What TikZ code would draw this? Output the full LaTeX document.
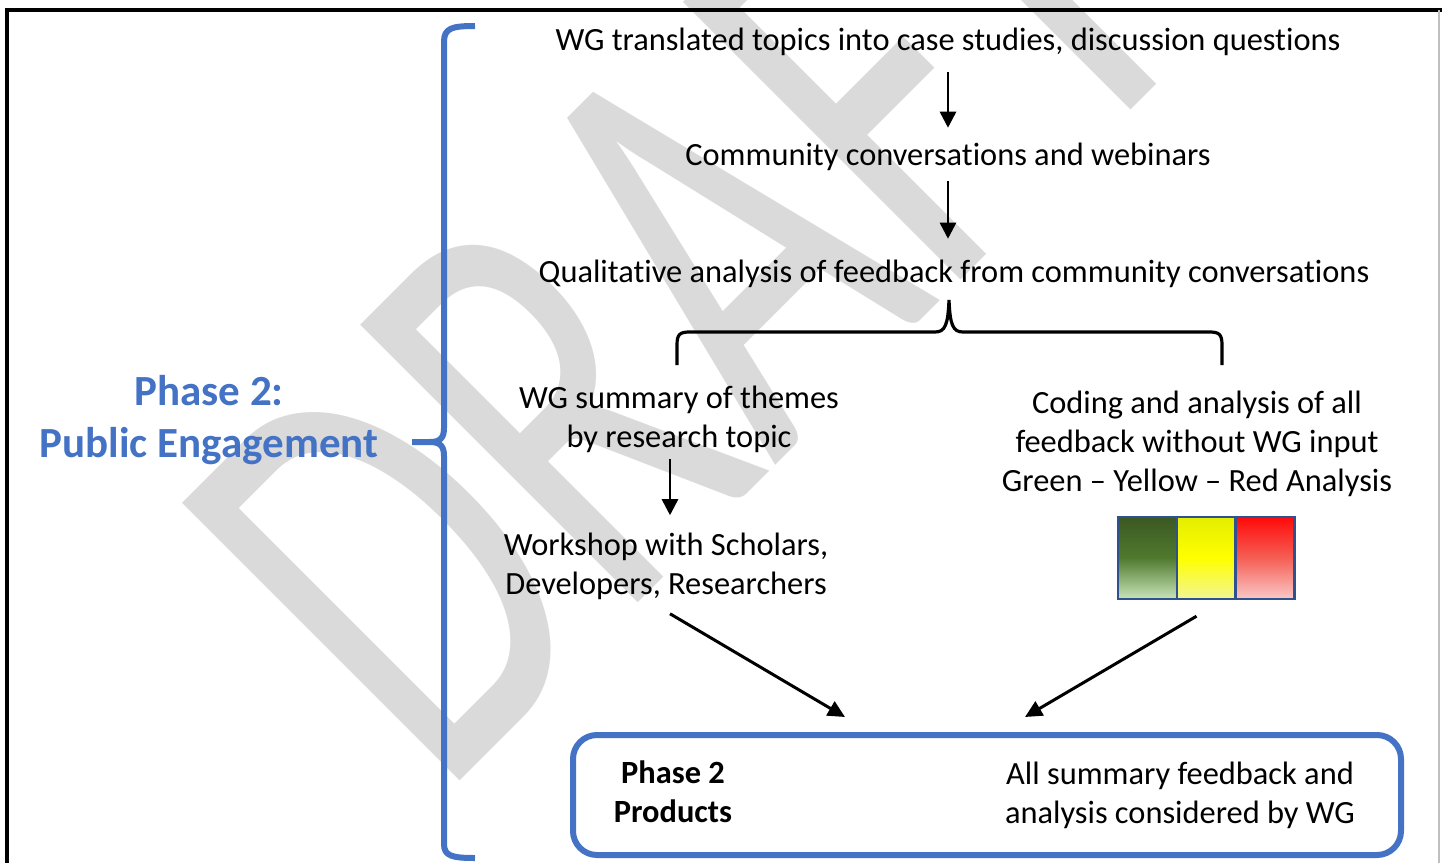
\documentclass[tikz,border=0pt]{standalone}
\usepackage{fontspec}
\setmainfont{Carlito}[Ligatures={TeX,NoCommon}]
\usetikzlibrary{arrows.meta}

\definecolor{phaseblue}{RGB}{68,114,196}
\definecolor{ragblue}{RGB}{47,82,143}
\definecolor{wmgray}{RGB}{218,218,218}
\definecolor{ragGreenTop}{RGB}{58,88,34}
\definecolor{ragGreenMid}{RGB}{80,122,46}
\definecolor{ragGreenBot}{RGB}{200,228,185}
\definecolor{ragYellowTop}{RGB}{228,238,0}
\definecolor{ragYellowMid}{RGB}{255,255,0}
\definecolor{ragYellowBot}{RGB}{242,245,150}
\definecolor{ragRedTop}{RGB}{255,10,10}
\definecolor{ragRedMid}{RGB}{245,95,85}
\definecolor{ragRedBot}{RGB}{250,200,200}

\begin{document}
\begin{tikzpicture}[x=0.5pt, y=-0.5pt,
    flowtext/.style={inner sep=0pt, align=center, font=\fontsize{16.2pt}{19.5pt}\selectfont},
    flowarrow/.style={-{Triangle[length=8pt,width=8pt]}, line width=1.3pt},
    bigarrow/.style={-{Triangle[length=8.5pt,width=8pt]}, line width=1.5pt},
    ragcell/.style={draw=ragblue, line width=1.2pt, minimum width=29.5pt, minimum height=41pt, inner sep=0pt}]
    \useasboundingbox (0,0) rectangle (1442,863);

    % watermark
    \node[text=wmgray, font=\fontsize{204pt}{204pt}\selectfont, inner sep=0pt,
        anchor=base west, rotate=45, yscale=1.5] (draft) at (440,801) {DRAFT};

    % frame
    \draw[line width=1.6pt] (7,863) -- (7,10) -- (1442,10);
    \draw[gray!50, line width=0.6pt] (1439,10) -- (1439,863);

    % phase brace
    \node[flowtext, text=phaseblue, font=\bfseries\fontsize{21.5pt}{26pt}\selectfont] (phase) at (209,420) {Phase 2:\\Public Engagement};
    \draw[phaseblue, line width=3pt] (475,26) .. controls (452,26) and (444,28) .. (444,42)
        -- (444,428) .. controls (444,437) and (441,442) .. (430,442) -- (412,442)
        (430,442) .. controls (441,442) and (444,447) .. (444,456)
        -- (444,844) .. controls (444,856) and (452,858) .. (475,858);

    % main column
    \node[flowtext] (topics) at (948,42) {WG translated topics into case studies, discussion questions};
    \node[flowtext] (community) at (948,157) {Community conversations and webinars};
    \node[flowtext] (analysis) at (954,274) {Qualitative analysis of feedback from community conversations};
    \draw[flowarrow, shorten <=8pt, shorten >=7.5pt] (topics) -- (community);
    \draw[flowarrow, shorten <=5pt, shorten >=10.5pt] (community) -- (community |- analysis.north);

    % split brace
    \coordinate (split) at (949,300);
    \draw[line width=1.6pt] (677,365) -- (677,345) .. controls (677,334) and (680,332) .. (690,332)
        -- (935,332) .. controls (945,332) and (948,325) .. (split)
        .. controls (950,325) and (953,332) .. (963,332)
        -- (1209,332) .. controls (1219,332) and (1222,334) .. (1222,345) -- (1222,365);

    % left branch
    \node[flowtext] (summary) at (679,419) {WG summary of themes\\by research topic};
    \node[flowtext] (workshop) at (666,566) {Workshop with Scholars,\\Developers, Researchers};
    \draw[flowarrow, shorten <=3pt, shorten >=8.5pt] ([xshift=2pt]summary.south -| workshop.north) -- ([xshift=2pt]workshop.north);

    % right branch
    \node[flowtext] (coding) at (1197,444) {Coding and analysis of all\\feedback without WG input\\Green – Yellow – Red Analysis};
    \node[ragcell, top color=ragGreenTop, bottom color=ragGreenBot, middle color=ragGreenMid] (green) at (1147.5,558) {};
    \node[ragcell, top color=ragYellowTop, bottom color=ragYellowBot, middle color=ragYellowMid] (yellow) at (1206.5,558) {};
    \node[ragcell, top color=ragRedTop, bottom color=ragRedBot, middle color=ragRedMid] (red) at (1265,558) {};

    % products
    \node[draw=phaseblue, line width=3pt, rounded corners=12pt, minimum width=414pt, minimum height=60pt, inner sep=0pt] (products) at (987,795) {};
    \node[flowtext, font=\bfseries\fontsize{16.2pt}{19.5pt}\selectfont] (prodtitle) at (673,792) {Phase 2\\Products};
    \node[flowtext] (prodnote) at (1180,795) {All summary feedback and\\analysis considered by WG};

    \coordinate (inleft) at (845,717);
    \coordinate (inright) at (1025,717);
    \draw[bigarrow] ([xshift=2pt,yshift=-7pt]workshop.south) -- (inleft);
    \draw[bigarrow] ([xshift=-5pt,yshift=-8pt]yellow.south) -- (inright);
\end{tikzpicture}
\end{document}
